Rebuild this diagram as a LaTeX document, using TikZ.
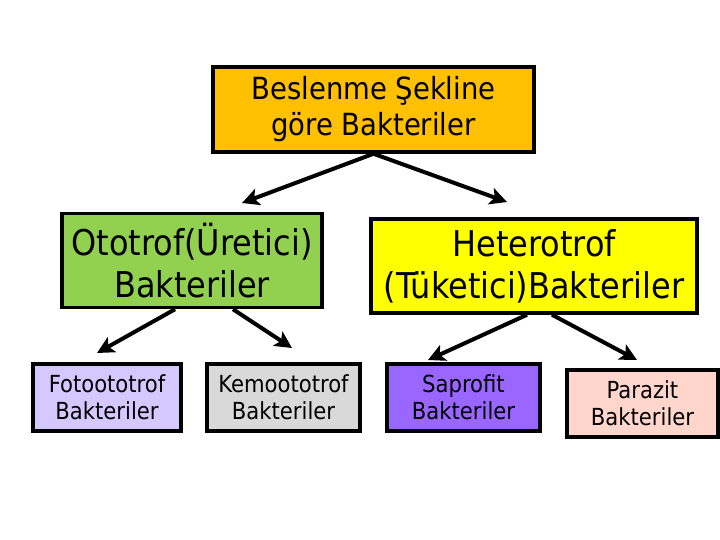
\documentclass[tikz,border=0pt]{standalone}
\usepackage{fontspec}
\setmainfont{DejaVu Sans Condensed}
\usetikzlibrary{arrows.meta}
\definecolor{orangeF}{HTML}{FFC000}
\definecolor{greenF}{HTML}{92D050}
\definecolor{yellowF}{HTML}{FFFF00}
\definecolor{lavF}{HTML}{D5C8FF}
\definecolor{greyF}{HTML}{D9D9D9}
\definecolor{purpF}{HTML}{9966FF}
\definecolor{pinkF}{HTML}{FFD5CC}
\tikzset{
  box/.style={draw=black, line width=3.5pt, align=center, inner sep=0pt, text=black},
  bigtxt/.style={font=\fontsize{35.5}{42}\selectfont},
  toptxt/.style={font=\fontsize{30.5}{36}\selectfont},
  smalltxt/.style={font=\fontsize{23.5}{27}\selectfont},
  arr/.style={line width=4pt, -{Stealth[length=17pt, width=17pt, inset=4pt]}}
}
\begin{document}
\begin{tikzpicture}[x=1pt, y=-1pt]
\useasboundingbox[fill=white] (0,0) rectangle (720,540);
\node[box, toptxt, fill=orangeF, minimum width=321pt, minimum height=85pt] (top) at (373.5,109.5) {Beslenme Şekline\\göre Bakteriler};
\node[box, bigtxt, fill=greenF, minimum width=260pt, minimum height=94pt] (oto) at (192,260.5) {Ototrof(Üretici)\\Bakteriler};
\node[box, bigtxt, fill=yellowF, minimum width=326pt, minimum height=94pt] (het) at (534,266) {Heterotrof\\(Tüketici)Bakteriler};
\node[box, smalltxt, fill=lavF, minimum width=148pt, minimum height=67pt] (foto) at (107,397.5) {Fotoototrof\\Bakteriler};
\node[box, smalltxt, fill=greyF, minimum width=153pt, minimum height=67pt] (kemo) at (283.5,397.5) {Kemoototrof\\Bakteriler};
\node[box, smalltxt, fill=purpF, minimum width=153pt, minimum height=67pt] (sap) at (463.5,397.5) {Saprofit\\Bakteriler};
\node[box, smalltxt, fill=pinkF, minimum width=151pt, minimum height=67pt] (par) at (642.5,403.5) {Parazit\\Bakteriler};
\coordinate (t1) at (242,203);
\coordinate (t2) at (507,202);
\coordinate (o1) at (97,353);
\coordinate (o2) at (292,348);
\coordinate (h1) at (428,360);
\coordinate (h2) at (637,360);
\draw[arr] ([xshift=0pt]top.south) -- (t1);
\draw[arr] ([xshift=0pt]top.south) -- (t2);
\draw[arr] ([xshift=-17pt]oto.south) -- (o1);
\draw[arr] ([xshift=41pt]oto.south) -- (o2);
\draw[arr] ([xshift=-7pt]het.south) -- (h1);
\draw[arr] ([xshift=18pt]het.south) -- (h2);
\end{tikzpicture}
\end{document}
